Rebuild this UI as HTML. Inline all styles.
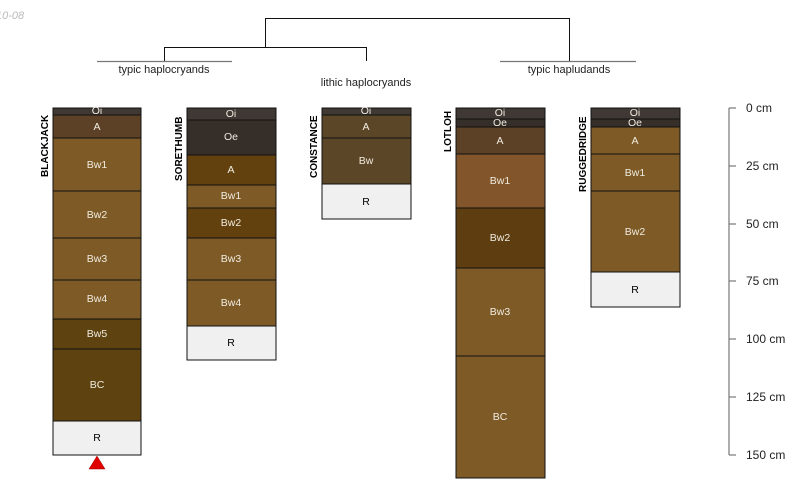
<!DOCTYPE html>
<html><head><meta charset="utf-8"><style>
html,body{margin:0;padding:0;background:#fff;}
svg{display:block;font-family:"Liberation Sans",sans-serif;}
.h{font-size:10.5px;fill:#f0ece0;text-anchor:middle;dominant-baseline:central;}
.r{font-size:10.5px;fill:#000;text-anchor:middle;dominant-baseline:central;}
.n{font-size:10px;font-weight:bold;fill:#000;}
.t{font-size:11px;fill:#222;text-anchor:middle;}
.s{font-size:12px;fill:#222;}
rect{stroke:#111;stroke-width:1;}
</style></head><body>
<svg width="800" height="500" viewBox="0 0 800 500">
<text x="-4" y="19" font-size="11" font-style="italic" fill="#bbb">10-08</text>
<g stroke="#111" stroke-width="1" fill="none">
<path d="M265.5 47V18.5H569.5V61"/>
<path d="M164.5 61V47.5H366.5V61"/>
</g>
<g stroke="#777" stroke-width="1.2">
<line x1="97" y1="61.5" x2="232" y2="61.5"/>
<line x1="500" y1="61.5" x2="636" y2="61.5"/>
</g>
<text class="t" x="164" y="73">typic haplocryands</text>
<text class="t" x="366" y="86">lithic haplocryands</text>
<text class="t" x="569" y="73">typic hapludands</text>

<text class="n" transform="translate(48,177) rotate(-90)">BLACKJACK</text>
<rect x="53" y="108" width="88" height="7" fill="#403833"/><text class="h" x="97" y="111">Oi</text>
<rect x="53" y="115" width="88" height="23" fill="#5c4126"/><text class="h" x="97" y="127">A</text>
<rect x="53" y="138" width="88" height="53" fill="#7e5a26"/><text class="h" x="97" y="165">Bw1</text>
<rect x="53" y="191" width="88" height="47" fill="#7e5a26"/><text class="h" x="97" y="215">Bw2</text>
<rect x="53" y="238" width="88" height="42" fill="#7e5a26"/><text class="h" x="97" y="259">Bw3</text>
<rect x="53" y="280" width="88" height="39" fill="#7e5a26"/><text class="h" x="97" y="299">Bw4</text>
<rect x="53" y="319" width="88" height="30" fill="#5e4210"/><text class="h" x="97" y="334">Bw5</text>
<rect x="53" y="349" width="88" height="72" fill="#5e4210"/><text class="h" x="97" y="385">BC</text>
<rect x="53" y="421" width="88" height="34" fill="#f0f0f0"/><text class="r" x="97" y="438">R</text>
<polygon points="89,469 97,456 105,469" fill="#e00000" stroke="#900" stroke-width="0.5"/>

<text class="n" transform="translate(182,181) rotate(-90)">SORETHUMB</text>
<rect x="187" y="108" width="89" height="12" fill="#403834"/><text class="h" x="231" y="114">Oi</text>
<rect x="187" y="120" width="89" height="35" fill="#352e29"/><text class="h" x="231" y="137">Oe</text>
<rect x="187" y="155" width="89" height="30" fill="#62410e"/><text class="h" x="231" y="170">A</text>
<rect x="187" y="185" width="89" height="23" fill="#7e5a26"/><text class="h" x="231" y="196">Bw1</text>
<rect x="187" y="208" width="89" height="30" fill="#62410e"/><text class="h" x="231" y="223">Bw2</text>
<rect x="187" y="238" width="89" height="42" fill="#7e5a26"/><text class="h" x="231" y="259">Bw3</text>
<rect x="187" y="280" width="89" height="46" fill="#7e5a26"/><text class="h" x="231" y="303">Bw4</text>
<rect x="187" y="326" width="89" height="34" fill="#f0f0f0"/><text class="r" x="231" y="343">R</text>

<text class="n" transform="translate(317,178) rotate(-90)">CONSTANCE</text>
<rect x="322" y="108" width="89" height="7" fill="#403833"/><text class="h" x="366" y="111">Oi</text>
<rect x="322" y="115" width="89" height="23" fill="#5c4628"/><text class="h" x="366" y="127">A</text>
<rect x="322" y="138" width="89" height="46" fill="#5c4628"/><text class="h" x="366" y="161">Bw</text>
<rect x="322" y="184" width="89" height="35" fill="#f0f0f0"/><text class="r" x="366" y="202">R</text>

<text class="n" transform="translate(451,152) rotate(-90)">LOTLOH</text>
<rect x="456" y="108" width="89" height="11" fill="#403834"/><text class="h" x="500" y="113">Oi</text>
<rect x="456" y="119" width="89" height="8" fill="#352e29"/><text class="h" x="500" y="123">Oe</text>
<rect x="456" y="127" width="89" height="27" fill="#5c4126"/><text class="h" x="500" y="141">A</text>
<rect x="456" y="154" width="89" height="54" fill="#82552a"/><text class="h" x="500" y="181">Bw1</text>
<rect x="456" y="208" width="89" height="60" fill="#5e3e10"/><text class="h" x="500" y="238">Bw2</text>
<rect x="456" y="268" width="89" height="88" fill="#7e5a26"/><text class="h" x="500" y="312">Bw3</text>
<rect x="456" y="356" width="89" height="122" fill="#7e5a26"/><text class="h" x="500" y="417">BC</text>

<text class="n" transform="translate(586,192) rotate(-90)">RUGGEDRIDGE</text>
<rect x="591" y="108" width="89" height="11" fill="#403834"/><text class="h" x="635" y="113">Oi</text>
<rect x="591" y="119" width="89" height="8" fill="#352e29"/><text class="h" x="635" y="123">Oe</text>
<rect x="591" y="127" width="89" height="27" fill="#7e5a26"/><text class="h" x="635" y="141">A</text>
<rect x="591" y="154" width="89" height="37" fill="#7e5a26"/><text class="h" x="635" y="173">Bw1</text>
<rect x="591" y="191" width="89" height="81" fill="#7e5a26"/><text class="h" x="635" y="232">Bw2</text>
<rect x="591" y="272" width="89" height="35" fill="#f0f0f0"/><text class="r" x="635" y="290">R</text>

<g stroke="#777" stroke-width="1.2">
<line x1="729" y1="108" x2="729" y2="455"/>
<line x1="729" y1="108" x2="736" y2="108"/>
<line x1="729" y1="166" x2="736" y2="166"/>
<line x1="729" y1="224" x2="736" y2="224"/>
<line x1="729" y1="281" x2="736" y2="281"/>
<line x1="729" y1="339" x2="736" y2="339"/>
<line x1="729" y1="397" x2="736" y2="397"/>
<line x1="729" y1="455" x2="736" y2="455"/>
</g>
<text class="s" x="746" y="112">0 cm</text>
<text class="s" x="746" y="170">25 cm</text>
<text class="s" x="746" y="228">50 cm</text>
<text class="s" x="746" y="285">75 cm</text>
<text class="s" x="746" y="343">100 cm</text>
<text class="s" x="746" y="401">125 cm</text>
<text class="s" x="746" y="459">150 cm</text>
</svg>
</body></html>
